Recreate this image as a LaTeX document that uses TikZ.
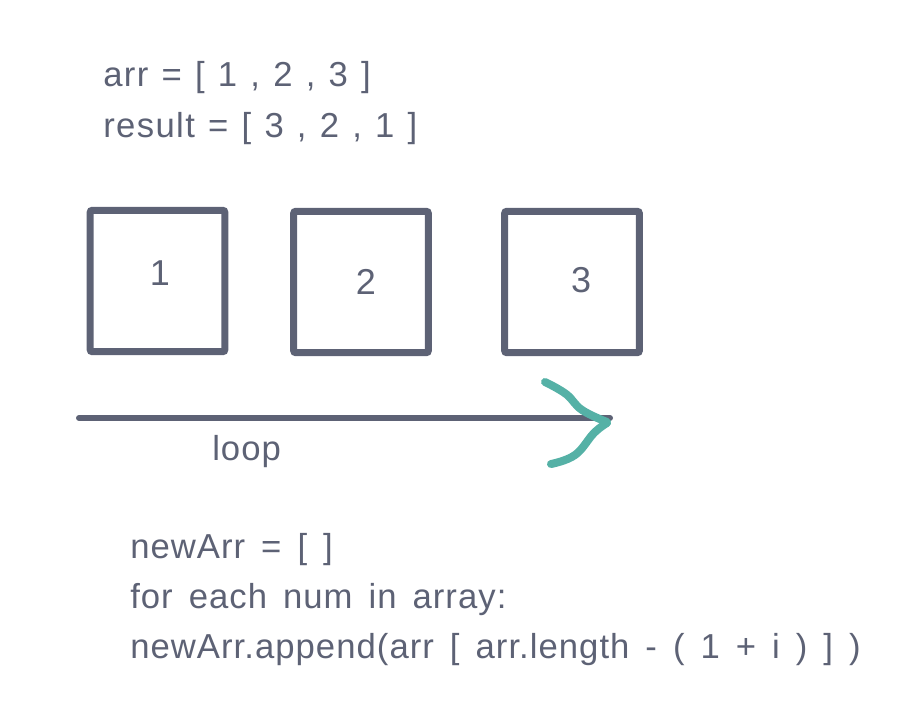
\documentclass[tikz,border=0pt]{standalone}
\usepackage{fontspec}
\setmainfont{Liberation Sans}
\newfontfamily\codefont[LetterSpace=3,WordSpace=1.5]{Liberation Sans}
\newfontfamily\topfont[LetterSpace=4,WordSpace=1.2]{Liberation Sans}
\usetikzlibrary{positioning,calc}
\definecolor{cInk}{HTML}{5D6275}
\definecolor{cTeal}{HTML}{55B1A6}
\tikzset{
  cell/.style={draw=cInk,line width=5.2pt,rounded corners=1.5pt,minimum width=101pt,minimum height=106pt,inner sep=0pt},
  code/.style={anchor=base west,text=cInk,font=\codefont\fontsize{26}{31}\selectfont,inner sep=0pt},
  head/.style={code,font=\topfont\fontsize{26}{31}\selectfont},
  digit/.style={text=cInk,font=\fontsize{27}{32}\selectfont,inner sep=0pt},
  track/.style={draw=cInk,line width=4.5pt,line cap=round},
  tip/.style={draw=cTeal,line width=6pt,line cap=round,line join=round},
}
\begin{document}
\begin{tikzpicture}[x=0.75pt,y=-0.75pt]
  \useasboundingbox (0,0) rectangle (916,720);
  % arrays on top
  \node[head] (arr) at (103,87) {arr = [ 1 , 2 , 3 ]};
  \node[head] (res) at (103,138) {result = [ 3 , 2 , 1 ]};
  % the three cells
  \node[cell] (cell1) at (157.5,281) {};
  \node[cell] (cell2) at (361,282) {};
  \node[cell] (cell3) at (572,282) {};
  \node[digit] (d1) at (160,273.5) {1};
  \node[digit] (d2) at (366,282) {2};
  \node[digit] (d3) at (581,280) {3};
  % loop arrow
  \coordinate (lstart) at (79,418);
  \coordinate (lend) at (610,418);
  \draw[track] (lstart) -- (lend);
  \draw[tip] plot[smooth,tension=0.7] coordinates {(545,382) (566,394) (582,410) (607,422)};
  \draw[tip] plot[smooth,tension=0.7] coordinates {(607,423) (594,433) (575,455) (551,464)};
  \node[code] (loop) at (212,460) {loop};
  % pseudo code
  \node[code] (l1) at (130,558) {newArr = [ ]};
  \node[code] (l2) at (130,608) {for each num in array:};
  \node[code] (l3) at (130,658) {newArr.append(arr [ arr.length - ( 1 + i ) ] )};
\end{tikzpicture}
\end{document}
